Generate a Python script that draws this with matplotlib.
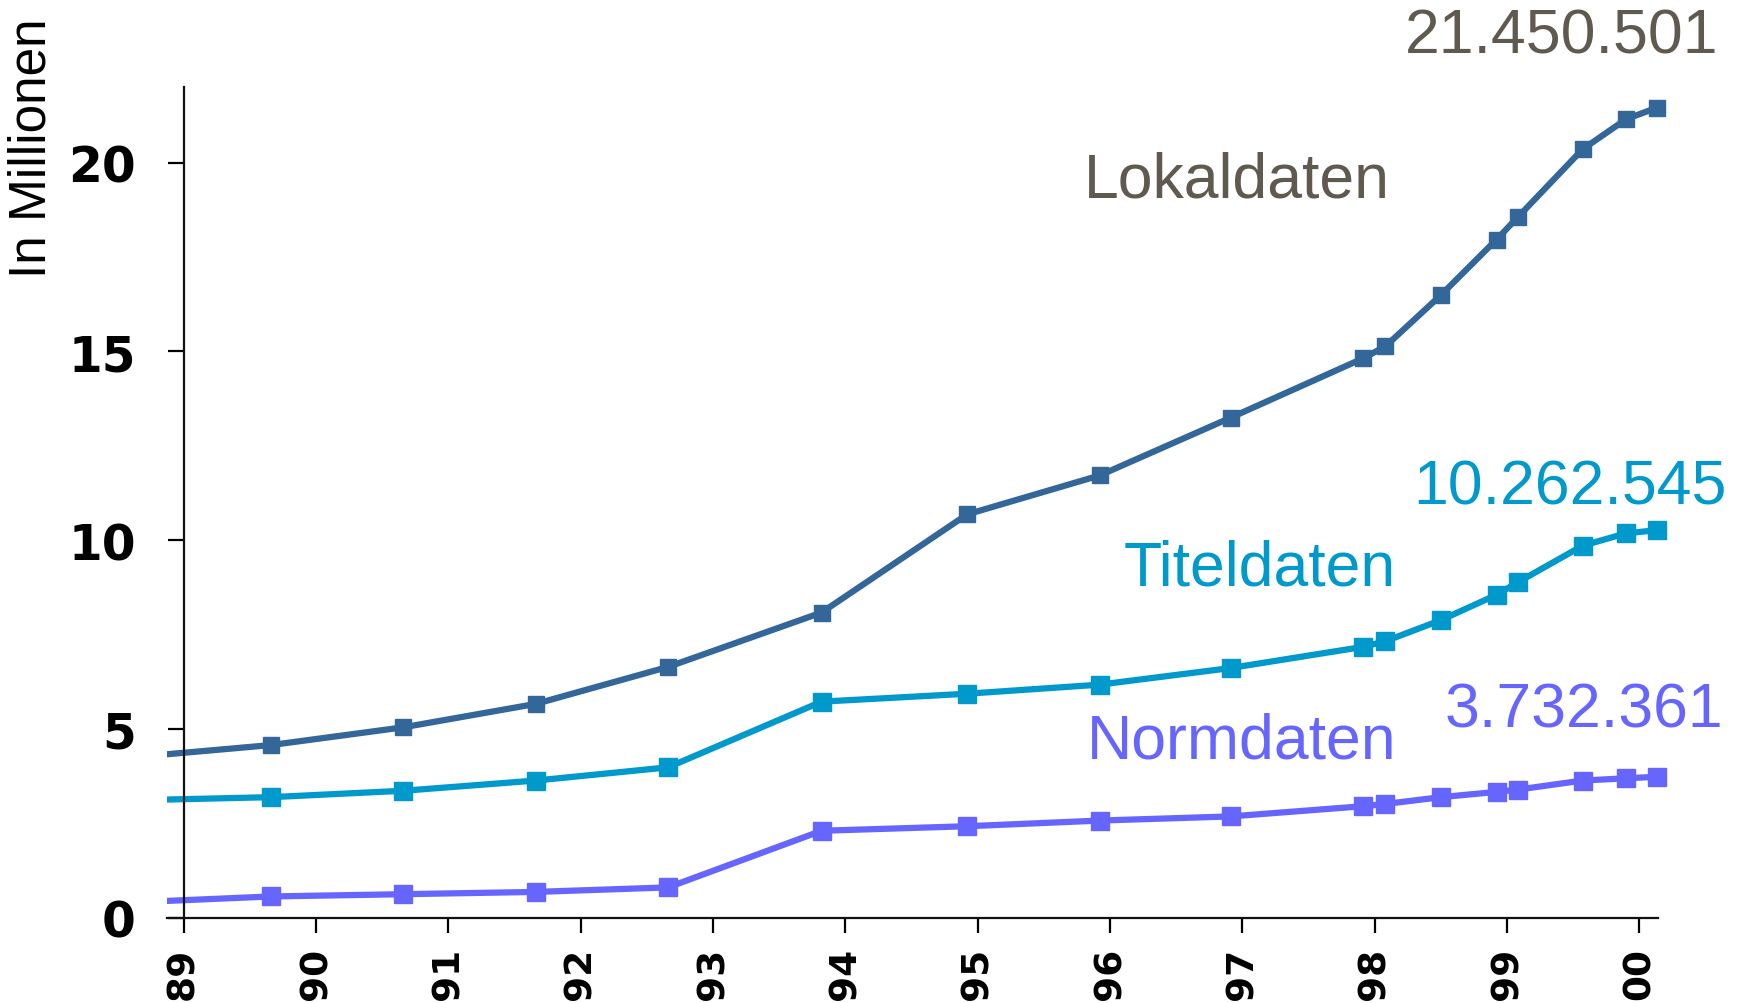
import matplotlib
matplotlib.use("Agg")
import matplotlib.pyplot as plt

# ---- data (years as decimal, 89 = 1989, 100 = 2000) ----
years = [88.66, 89.66, 90.66, 91.66, 92.66, 93.82, 94.92, 95.92, 96.91,
         97.91, 98.08, 98.50, 98.92, 99.08, 99.57, 99.90, 100.13]
lokaldaten = [4.26, 4.57, 5.04, 5.66, 6.64, 8.08, 10.68, 11.71, 13.24,
              14.81, 15.13, 16.49, 17.96, 18.55, 20.35, 21.15, 21.45]
titeldaten = [3.11, 3.19, 3.36, 3.63, 3.98, 5.72, 5.93, 6.17, 6.61,
              7.17, 7.32, 7.88, 8.55, 8.88, 9.85, 10.18, 10.26]
normdaten = [0.41, 0.56, 0.62, 0.68, 0.80, 2.30, 2.42, 2.57, 2.68,
             2.95, 3.01, 3.19, 3.33, 3.39, 3.63, 3.69, 3.73]

xticks = list(range(89, 101))
xticklabels = ["89", "90", "91", "92", "93", "94", "95", "96", "97", "98", "99", "00"]
yticks = [0, 5, 10, 15, 20]

series = [
    ("Lokaldaten", lokaldaten, "#336699", 12.0),
    ("Titeldaten", titeldaten, "#0099CC", 13.5),
    ("Normdaten", normdaten, "#6666FF", 13.5),
]

W, H = 1741, 1004
fig = plt.figure(figsize=(W / 100, H / 100), dpi=100)
ax = fig.add_axes([167 / W, 1 - 918.6 / H, (1658 - 167) / W, (918.6 - 88) / H])

for name, vals, col, ms in series:
    ax.plot(years, vals, color=col, lw=4.5, solid_joinstyle="miter")
    ax.plot(years[1:], vals[1:], ls="none", marker="s", ms=ms, color=col,
            clip_on=False, zorder=3)

ax.set_xlim(88.874, 100.14)
ax.set_ylim(0, 22)

for s in ["top", "right"]:
    ax.spines[s].set_visible(False)
ax.spines["left"].set_position(("data", 89))
for s in ["left", "bottom"]:
    ax.spines[s].set_linewidth(1.6)
    ax.spines[s].set_color("#111111")

ax.set_xticks(xticks)
ax.set_xticklabels(xticklabels, rotation=90, fontsize=27, fontweight="bold",
                   family="DejaVu Sans")
ax.set_yticks(yticks)
ax.set_yticklabels([str(v) for v in yticks], fontsize=35, fontweight="bold",
                   family="DejaVu Sans")
ax.tick_params(axis="x", direction="out", length=11, width=1.6, pad=10)
ax.tick_params(axis="y", direction="out", length=11.5, width=1.6, pad=23)

fs_num = 45
fs_name = 45
tf = "Liberation Sans"
# series names and end values
fig.text(1718 / W, 1 - 53 / H, "21.450.501", ha="right", va="baseline",
         fontsize=fs_num, color="#5F594F", family=tf)
fig.text(1390 / W, 1 - 198 / H, "Lokaldaten", ha="right", va="baseline",
         fontsize=fs_name, color="#5F594F", family=tf)
fig.text(1413 / W, 1 - 505 / H, "10.262.545", ha="left", va="baseline",
         fontsize=fs_num, color="#0099CC", family=tf)
fig.text(1396 / W, 1 - 585 / H, "Titeldaten", ha="right", va="baseline",
         fontsize=fs_name, color="#0099CC", family=tf)
fig.text(1445 / W, 1 - 728 / H, "3.732.361", ha="left", va="baseline",
         fontsize=fs_num, color="#6666FF", family=tf)
fig.text(1396 / W, 1 - 759 / H, "Normdaten", ha="right", va="baseline",
         fontsize=fs_name, color="#6666FF", family=tf)

fig.text(32 / W, 1 - 148 / H, "In Millionen", rotation=90, ha="center",
         va="center", fontsize=37, color="black", family=tf)

fig.savefig("out.png", dpi=100)
